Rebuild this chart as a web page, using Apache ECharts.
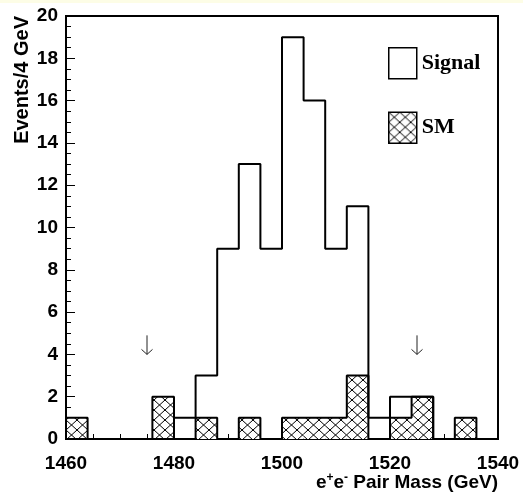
<!DOCTYPE html>
<html><head><meta charset="utf-8">
<script src="https://cdn.jsdelivr.net/npm/echarts@6/dist/echarts.min.js"></script>
<style>html,body{margin:0;padding:0;background:#fff}#c{width:523px;height:496px}</style>
</head><body><div id="c"></div>
<script>
// bin edges (GeV), 4 GeV bins
const binEdges = [1460,1464,1468,1472,1476,1480,1484,1488,1492,1496,1500,1504,1508,1512,1516,1520,1524,1528,1532,1536,1540];
// events per bin
const signalCounts = [0,0,0,0,0,1,3,9,13,9,19,16,9,11,1,2,2,0,0,0];
const smCounts     = [1,0,0,0,2,0,1,0,1,0,1,1,1,3,0,1,2,0,1,0];
// mass-window cut arrows (GeV) and their vertical span (events)
const cutArrows = [1475, 1525];
const arrowSpan = [4.9, 4.0];
const xTickValues = [1460,1480,1500,1520,1540];
const yTickValues = [0,2,4,6,8,10,12,14,16,18,20];

// cross-hatch pattern
const pc = document.createElement('canvas');
pc.width = 11; pc.height = 10;
const g = pc.getContext('2d');
g.fillStyle = '#fff'; g.fillRect(0,0,11,10);
g.strokeStyle = '#000'; g.lineWidth = 1;
for (const dx of [-11,0,11]) {
  g.beginPath(); g.moveTo(dx,0); g.lineTo(dx+11,10); g.stroke();
  g.beginPath(); g.moveTo(dx,10); g.lineTo(dx+11,0); g.stroke();
}
const hatch = {image: pc, repeat: 'repeat'};

function stepData(vals){
  const n = vals.length;
  const d = [[binEdges[0],0]];
  vals.forEach((v,i)=>d.push([binEdges[i],v]));
  d.push([binEdges[n],vals[n-1]]);
  d.push([binEdges[n],0]);
  return d;
}
const smBins = smCounts.map((v,i)=>[binEdges[i],binEdges[i+1],v]).filter(d=>d[2]>0);

const chart = echarts.init(document.getElementById('c'), null, {renderer:'canvas'});
const labelFont = {fontFamily:'Liberation Sans', fontWeight:'bold', fontSize:19, color:'#000'};
chart.setOption({
  backgroundColor:'#fff',
  animation:false,
  graphic:[{type:'rect', left:0, top:0, shape:{width:523,height:3}, style:{fill:'#fdfde6'}, silent:true}],
  grid:{left:66,right:25,top:16,bottom:57,containLabel:false,outerBoundsMode:'none',show:true,borderColor:'#000',borderWidth:2,backgroundColor:'transparent'},
  legend:{
    orient:'vertical', left:388, top:47, padding:0, itemWidth:28, itemHeight:31, itemGap:32,
    selectedMode:false,
    textStyle:{fontFamily:'Liberation Serif', fontWeight:'bold', fontSize:22, color:'#000'},
    data:[
      {name:'Signal', icon:'rect', itemStyle:{color:'#fff', borderColor:'#000', borderWidth:1.5}},
      {name:'SM', icon:'rect', itemStyle:{color:hatch, borderColor:'#000', borderWidth:1.5}}
    ]
  },
  xAxis:{
    type:'value', min:1460, max:1540, interval:20,
    name:'e{sup|+}e{sup|-} Pair Mass (GeV)', nameLocation:'end', nameGap:0, nameMoveOverlap:false,
    nameTextStyle:{fontFamily:'Liberation Sans', fontWeight:'bold', fontSize:19, color:'#000', align:'right', verticalAlign:'top', padding:[33,0,0,0], lineHeight:22,
      rich:{sup:{fontFamily:'Liberation Sans', fontWeight:'bold', fontSize:12, verticalAlign:'top', lineHeight:22, color:'#000'}}},
    axisLine:{show:true, lineStyle:{color:'#000', width:2}},
    axisTick:{show:true, inside:true, length:9, lineStyle:{color:'#000', width:1}},
    minorTick:{show:true, splitNumber:4, length:5, lineStyle:{color:'#000', width:1}},
    splitLine:{show:false},
    axisLabel:Object.assign({margin:15, formatter:v=>xTickValues.includes(v)?String(v):''}, labelFont)
  },
  yAxis:{
    type:'value', min:0, max:20, interval:2,
    name:'Events/4 GeV', nameLocation:'end', nameGap:0, nameRotate:90, nameMoveOverlap:false,
    nameTextStyle:{fontFamily:'Liberation Sans', fontWeight:'bold', fontSize:20, color:'#000', align:'right', verticalAlign:'bottom', padding:[0,0,34,0]},
    axisLine:{show:true, lineStyle:{color:'#000', width:2}},
    axisTick:{show:true, inside:true, length:9, lineStyle:{color:'#000', width:1}},
    minorTick:{show:true, splitNumber:4, length:5, lineStyle:{color:'#000', width:1}},
    splitLine:{show:false},
    axisLabel:Object.assign({margin:8, formatter:v=>yTickValues.includes(v)?String(v):''}, labelFont)
  },
  series:[
    {name:'SM', type:'custom', data:smBins, encode:{x:[0,1], y:2},
     itemStyle:{color:hatch},
     renderItem:(params, api)=>{
       const p0 = api.coord([api.value(0), api.value(2)]);
       const p1 = api.coord([api.value(1), 0]);
       return {type:'rect', shape:{x:p0[0], y:p0[1], width:p1[0]-p0[0], height:p1[1]-p0[1]}, style:{fill:hatch, stroke:null}};
     }},
    {name:'SM', type:'line', step:'end', data:stepData(smCounts), symbol:'none',
     lineStyle:{color:'#000', width:2}, itemStyle:{color:'#000'}},
    {name:'Signal', type:'line', step:'end', data:stepData(signalCounts), symbol:'none',
     lineStyle:{color:'#000', width:2}, itemStyle:{color:'#000'}},
    {name:'cuts', type:'custom', data:cutArrows.map(x=>[x, arrowSpan[0], arrowSpan[1]]), encode:{x:0, y:[1,2]},
     renderItem:(params, api)=>{
       const top = api.coord([api.value(0), api.value(1)]);
       const tip = api.coord([api.value(0), api.value(2)]);
       return {type:'group', children:[
         {type:'polyline', shape:{points:[top, tip]}, style:{stroke:'#222', lineWidth:1, fill:null}},
         {type:'polyline', shape:{points:[[tip[0]-5.5, tip[1]-5],[tip[0],tip[1]],[tip[0]+5.5, tip[1]-5]]}, style:{stroke:'#222', lineWidth:1, fill:null}}
       ]};
     }}
  ]
});
</script></body></html>
